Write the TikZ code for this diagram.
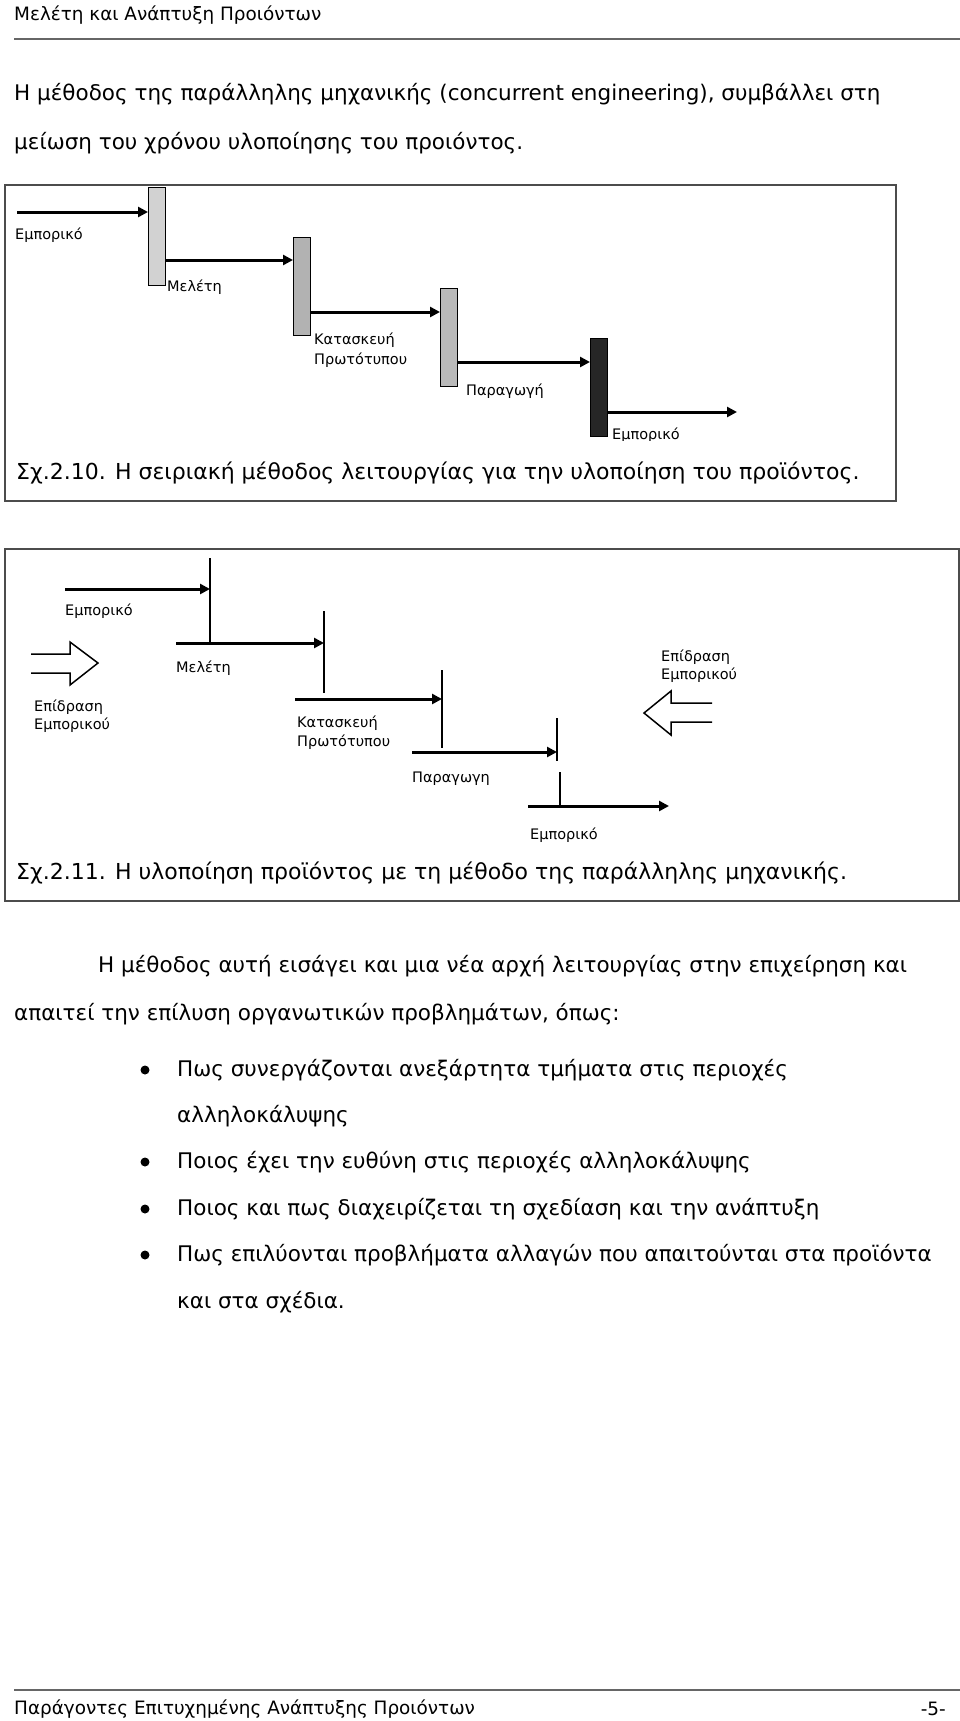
\documentclass[tikz,border=0pt]{standalone}
\usepackage{fontspec}
\setmainfont{DejaVu Sans}
\usetikzlibrary{arrows.meta}
\begin{document}
\begin{tikzpicture}[x=1pt,y=-1pt,
  body/.style={anchor=west,inner sep=0pt,font=\fontsize{21.5}{25}\selectfont},
  captxt/.style={anchor=west,inner sep=0pt,font=\fontsize{22}{26}\selectfont},
  hdr/.style={anchor=west,inner sep=0pt,font=\fontsize{18.4}{22}\selectfont},
  lbl/.style={anchor=west,inner sep=0pt,font=\fontsize{14.5}{17}\selectfont},
  framebox/.style={draw=black!70,line width=1.5pt,anchor=north west,inner sep=0pt},
  bar/.style={draw=black,line width=1.2pt,minimum width=17pt,minimum height=98pt,inner sep=0pt,anchor=north west},
  arr/.style={line width=3pt,-{Triangle[length=10pt,width=10pt]}},
  tick/.style={line width=1.5pt},
  hollow/.style={line width=1.5pt,line join=miter},
  dot/.style={circle,fill=black,inner sep=0pt,minimum size=9pt},
  rulel/.style={line width=2.5pt,black!60}
]
\useasboundingbox (0,0) rectangle (960,1721);
% header
\node[hdr] (head) at (14,15) {Μελέτη και Ανάπτυξη Προιόντων};
\coordinate (r1a) at (14,39); \coordinate (r1b) at (960,39);
\draw[rulel] (r1a) -- (r1b);
\node[body] (p1a) at (14,94) {Η μέθοδος της παράλληλης μηχανικής (concurrent engineering), συμβάλλει στη};
\node[body] (p1b) at (14,143) {μείωση του χρόνου υλοποίησης του προιόντος.};

% figure 1
\node[framebox,minimum width=891pt,minimum height=316pt] (fig1) at (4,184) {};
\node[bar,fill=gray!35] (b1) at (148,187) {};
\node[bar,fill=gray!60] (b2) at (293,237) {};
\node[bar,fill=gray!55] (b3) at (440,288) {};
\node[bar,fill=black!85] (b4) at (590,338) {};
\coordinate (s0) at (17,212);
\coordinate (y1) at (0,260);
\coordinate (y2) at (0,312);
\coordinate (y3) at (0,362);
\coordinate (y4) at (0,412);
\coordinate (f1end) at (737,412);
\draw[arr] (s0) -- (s0 -| b1.west);
\draw[arr] (b1.east |- y1) -- (b2.west |- y1);
\draw[arr] (b2.east |- y2) -- (b3.west |- y2);
\draw[arr] (b3.east |- y3) -- (b4.west |- y3);
\draw[arr] (b4.east |- y4) -- (f1end);
\node[lbl] (l1a) at (15,235) {Εμπορικό};
\node[lbl] (l1b) at (167,287) {Μελέτη};
\node[lbl] (l1c) at (314,340) {Κατασκευή};
\node[lbl] (l1d) at (314,360) {Πρωτότυπου};
\node[lbl] (l1e) at (466,391) {Παραγωγή};
\begin{scope}
\clip (600,420) rectangle (700,440);
\node[lbl] (l1f) at (612,435) {Εμπορικό};
\end{scope}
\node[captxt] (cap1) at (16,473) {Σχ.2.10. Η σειριακή μέθοδος λειτουργίας για την υλοποίηση του προϊόντος.};

% figure 2
\node[framebox,minimum width=954pt,minimum height=352pt] (fig2) at (4,548) {};
\coordinate (v1t) at (210,558); \coordinate (v1b) at (210,643);
\coordinate (v2t) at (324,611); \coordinate (v2b) at (324,693);
\coordinate (v3t) at (442,670); \coordinate (v3b) at (442,748);
\coordinate (v4t) at (557,718); \coordinate (v4b) at (557,761);
\coordinate (v5t) at (560,772); \coordinate (v5b) at (560,806);
\draw[tick] (v1t) -- (v1b);
\draw[tick] (v2t) -- (v2b);
\draw[tick] (v3t) -- (v3b);
\draw[tick] (v4t) -- (v4b);
\draw[tick] (v5t) -- (v5b);
\coordinate (e1) at (65,589);
\coordinate (e2) at (176,643);
\coordinate (e3) at (295,699);
\coordinate (e4) at (412,752);
\coordinate (e5) at (528,806);
\coordinate (e5end) at (669,806);
\draw[arr] (e1) -- (e1 -| v1t);
\draw[arr] (e2) -- (e2 -| v2t);
\draw[arr] (e3) -- (e3 -| v3t);
\draw[arr] (e4) -- (e4 -| v4t);
\draw[arr] (e5) -- (e5end);
\draw[hollow] (31,654) -- (70,654) -- (70,642) -- (98,663) -- (70,685) -- (70,673) -- (31,673);
\draw[hollow] (712,703) -- (671,703) -- (671,691) -- (644,713) -- (671,735) -- (671,722) -- (712,722);
\node[lbl] (l2a) at (65,611) {Εμπορικό};
\node[lbl] (l2b) at (176,668) {Μελέτη};
\node[lbl] (l2c) at (297,723) {Κατασκευή};
\node[lbl] (l2d) at (297,742) {Πρωτότυπου};
\node[lbl] (l2e) at (412,779) {Παραγωγη};
\node[lbl] (l2f) at (530,835) {Εμπορικό};
\node[lbl] (l2g) at (34,707) {Επίδραση};
\node[lbl] (l2h) at (34,725) {Εμπορικού};
\node[lbl] (l2i) at (661,657) {Επίδραση};
\node[lbl] (l2j) at (661,675) {Εμπορικού};
\node[captxt] (cap2) at (16,873) {Σχ.2.11. Η υλοποίηση προϊόντος με τη μέθοδο της παράλληλης μηχανικής.};

% text
\node[body] (p2a) at (98,966) {Η μέθοδος αυτή εισάγει και μια νέα αρχή λειτουργίας στην επιχείρηση και};
\node[body] (p2b) at (14,1014) {απαιτεί την επίλυση οργανωτικών προβλημάτων, όπως:};
\node[dot] (d1) at (145,1070) {};
\node[dot] (d2) at (145,1162) {};
\node[dot] (d3) at (145,1209) {};
\node[dot] (d4) at (145,1255) {};
\node[body] (t1) at (177,1070) {Πως συνεργάζονται ανεξάρτητα τμήματα στις περιοχές};
\node[body] (t1b) at (177,1116) {αλληλοκάλυψης};
\node[body] (t2) at (177,1162) {Ποιος έχει την ευθύνη στις περιοχές αλληλοκάλυψης};
\node[body] (t3) at (177,1209) {Ποιος και πως διαχειρίζεται τη σχεδίαση και την ανάπτυξη};
\node[body] (t4) at (177,1255) {Πως επιλύονται προβλήματα αλλαγών που απαιτούνται στα προϊόντα};
\node[body] (t4b) at (177,1302) {και στα σχέδια.};

% footer
\coordinate (r2a) at (14,1690); \coordinate (r2b) at (960,1690);
\draw[rulel] (r2a) -- (r2b);
\node[hdr] (foot) at (14,1709) {Παράγοντες Επιτυχημένης Ανάπτυξης Προιόντων};
\node[hdr,anchor=east] (page) at (946,1709) {-5-};
\end{tikzpicture}
\end{document}
